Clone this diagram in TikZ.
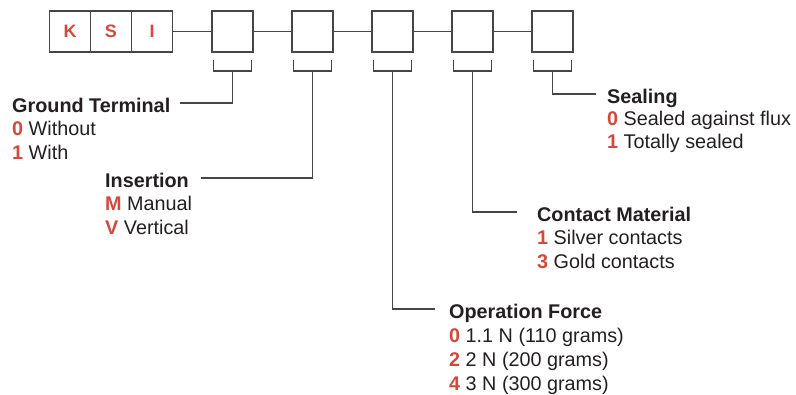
\documentclass[tikz,border=0pt]{standalone}
\usepackage{fontspec}
\setmainfont{Liberation Sans}
\usetikzlibrary{positioning}
\definecolor{ksired}{RGB}{214,72,56}
\definecolor{ksiink}{RGB}{35,31,32}
\definecolor{ksiline}{RGB}{70,70,70}
\newcommand{\code}[1]{{\color{ksired}\bfseries #1}}
\begin{document}
\begin{tikzpicture}[x=1pt,y=-1pt,
    box/.style={draw=ksiline,line width=1.4pt,minimum size=41pt,inner sep=0pt,outer sep=0pt},
    letter/.style={box,text=ksired,font=\fontsize{18}{20}\selectfont\bfseries},
    wire/.style={draw=ksiline,line width=1.4pt},
    head/.style={inner sep=0pt,anchor=base west,text height=18pt,text depth=0pt,text=ksiink,font=\fontsize{19.8}{23}\selectfont\bfseries},
    opt/.style={inner sep=0pt,anchor=base west,text=ksiink,font=\fontsize{19.8}{23}\selectfont}]
    \useasboundingbox (0,0) rectangle (796,394);
    % code boxes
    \node[letter] (K) at (70,31.5) {K};
    \node[letter,right=0pt of K] (S) {S};
    \node[letter,right=0pt of S] (I) {I};
    \node[box] (b1) at (232.5,31.5) {};
    \foreach \i [count=\j from 2] in {1,...,4}
        \node[box,right=39pt of b\i] (b\j) {};
    \draw[wire] (I) -- (b1);
    \foreach \i [count=\j from 2] in {1,...,4}
        \draw[wire] (b\i) -- (b\j);
    % brackets
    \foreach \i in {1,...,5}{
        \draw[wire] ([shift={(-19pt,-8pt)}]b\i.south) -- ++(0,11) -- ++(38,0) -- ++(0,-11);
        \coordinate (t\i) at ([yshift=-19pt]b\i.south);
    }
    % ground terminal
    \node[head] (gt) at (12,112) {Ground Terminal};
    \node[opt] (gt0) at ([yshift=-23.5pt]gt.base west) {\code{0} Without};
    \node[opt] (gt1) at ([yshift=-23.5pt]gt0.base west) {\code{1} With};
    % insertion
    \node[head] (ins) at (105,187) {Insertion};
    \node[opt] (insM) at ([yshift=-23.5pt]ins.base west) {\code{M} Manual};
    \node[opt] (insV) at ([yshift=-23.5pt]insM.base west) {\code{V} Vertical};
    % operation force
    \node[head] (of) at (449,318) {Operation Force};
    \node[opt] (of0) at ([yshift=-24pt]of.base west) {\code{0} 1.1 N (110 grams)};
    \node[opt] (of2) at ([yshift=-24pt]of0.base west) {\code{2} 2 N (200 grams)};
    \node[opt] (of4) at ([yshift=-24pt]of2.base west) {\code{4} 3 N (300 grams)};
    % contact material
    \node[head] (cm) at (537,221) {Contact Material};
    \node[opt] (cm1) at ([yshift=-23.5pt]cm.base west) {\code{1} Silver contacts};
    \node[opt] (cm3) at ([yshift=-23.5pt]cm1.base west) {\code{3} Gold contacts};
    % sealing
    \node[head] (seal) at (607,103) {Sealing};
    \node[opt] (seal0) at ([yshift=-22.5pt]seal.base west) {\code{0} Sealed against flux};
    \node[opt] (seal1) at ([yshift=-22.5pt]seal0.base west) {\code{1} Totally sealed};
    % leaders
    \draw[wire] (t1) |- ([xshift=10pt]gt.east);
    \draw[wire] (t2) |- ([xshift=12pt]ins.east);
    \draw[wire] (t3) |- ([xshift=-14pt]of.west);
    \draw[wire] (t4) |- ([xshift=-20pt]cm.west);
    \draw[wire] (t5) |- ([xshift=-11pt]seal.west);
\end{tikzpicture}
\end{document}
